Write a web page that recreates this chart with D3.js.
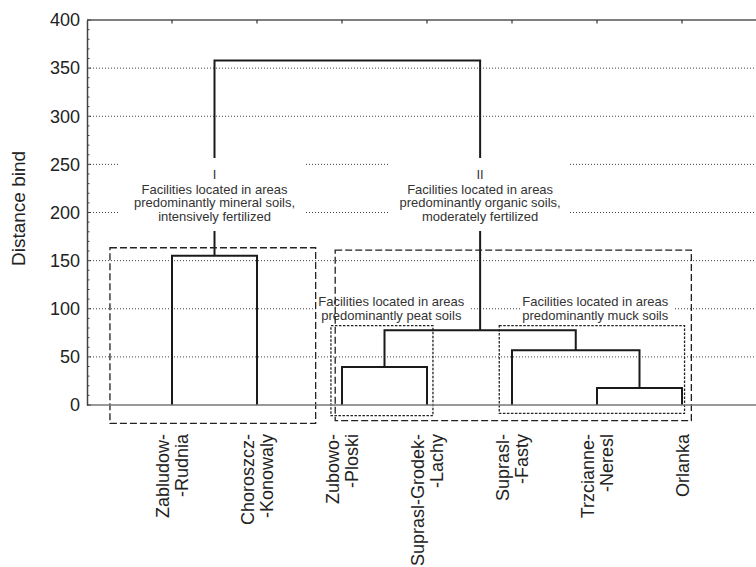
<!DOCTYPE html>
<html>
<head>
<meta charset="utf-8">
<script src="https://cdn.jsdelivr.net/npm/d3@7"></script>
<style>
  body { margin: 0; background: #fff; }
  text { font-family: "Liberation Sans", Arial, sans-serif; }
</style>
</head>
<body>
<div id="chart"></div>
<script>
// leaves of the dendrogram, in drawing order (each entry = lines of the label)
let leafLabels = [
    ["Zabludow-", "-Rudnia"],
    ["Choroszcz-", "-Konowaly"],
    ["Zubowo-", "-Ploski"],
    ["Suprasl-Grodek-", "-Lachy"],
    ["Suprasl-", "-Fasty"],
    ["Trzcianne-", "-Neresl"],
    ["Orlanka"]
];

// merges: node ids 0..6 are leaves, merge k creates node 7+k
let mergeA = [5, 2, 4, 8, 0, 11];
let mergeB = [6, 3, 7, 9, 1, 10];
let mergeHeight = [17.7, 39.5, 57, 77.6, 155, 358];

let yTicks = [0, 50, 100, 150, 200, 250, 300, 350, 400];
let gridValues = [50, 100, 150, 200, 250, 300, 350];

let width = 756, height = 567;

let svg = d3.select("#chart")
    .append("svg")
    .attr("width", width)
    .attr("height", height);

// leaf index -> px, distance -> px
let x = d3.scaleLinear().domain([-1, 7]).range([87, 767]);
let y = d3.scaleLinear().domain([0, 400]).range([405, 20]);

// dotted grid
svg.append("g").selectAll("line").data(gridValues).enter()
    .append("line")
    .attr("x1", x(-1)).attr("x2", width)
    .attr("y1", d => y(d)).attr("y2", d => y(d))
    .attr("stroke", "#444")
    .attr("stroke-width", 1)
    .attr("stroke-dasharray", "1,2");

// build node positions
let nodes = leafLabels.map((d, i) => ({ pos: i, h: 0 }));
mergeA.forEach((a, k) => {
    let b = mergeB[k];
    nodes.push({ pos: (nodes[a].pos + nodes[b].pos) / 2, h: mergeHeight[k] });
});

// dendrogram links
svg.append("g").selectAll("path").data(mergeA).enter()
    .append("path")
    .attr("d", function(a, k) {
        let na = nodes[a], nb = nodes[mergeB[k]], h = mergeHeight[k];
        return `M${x(na.pos)},${y(na.h)}V${y(h)}H${x(nb.pos)}V${y(nb.h)}`;
    })
    .attr("fill", "none")
    .attr("stroke", "#1a1a1a")
    .attr("stroke-width", 2);

// cluster annotations (white boxes blank out lines behind them)
let annotations = [
    { cx: nodes[11].pos, top: 178.5, lines: ["I", "Facilities located in areas", "predominantly mineral soils,", "intensively fertilized"], box: [120, 158, 305, 231] },
    { cx: nodes[10].pos, top: 178.5, lines: ["II", "Facilities located in areas", "predominantly organic soils,", "moderately fertilized"], box: [388, 158, 568, 231] },
    { cx: 2.58, top: 306, lines: ["Facilities located in areas", "predominantly peat soils"], box: [317, 296, 469, 323] },
    { cx: 4.98, top: 306, lines: ["Facilities located in areas", "predominantly muck soils"], box: [521, 296, 673, 323] }
];

let ann = svg.append("g").selectAll("g").data(annotations).enter().append("g");
ann.append("rect")
    .attr("x", d => d.box[0]).attr("y", d => d.box[1])
    .attr("width", d => d.box[2] - d.box[0])
    .attr("height", d => d.box[3] - d.box[1])
    .attr("fill", "#fff");
ann.append("text")
    .attr("text-anchor", "middle")
    .attr("font-size", 13)
    .attr("fill", "#333")
    .selectAll("tspan").data(d => d.lines.map((l, i) => ({ l: l, i: i, d: d }))).enter()
    .append("tspan")
    .attr("x", t => x(t.d.cx))
    .attr("y", function(t) {
        if (t.d.lines.length == 4) {
            return t.i == 0 ? t.d.top : t.d.top + 15 + (t.i - 1) * 13.7;
        }
        return t.d.top + t.i * 13.7;
    })
    .text(t => t.l);

// group boxes [pos0, pos1, hTop, hBottom, dash]
let boxes = [
    [-0.73, 1.69, 163.4, -19.0, "7,3"],
    [1.92, 6.11, 161, -16.3, "7,3"],
    [1.87, 3.07, 82.4, -11.1, "2.5,1.5"],
    [3.85, 6.03, 82.4, -8.6, "2.5,1.5"]
];
svg.append("g").selectAll("rect").data(boxes).enter()
    .append("rect")
    .attr("x", d => x(d[0]))
    .attr("y", d => y(d[2]))
    .attr("width", d => x(d[1]) - x(d[0]))
    .attr("height", d => y(d[3]) - y(d[2]))
    .attr("fill", "none")
    .attr("stroke", "#222")
    .attr("stroke-width", 1.3)
    .attr("stroke-dasharray", d => d[4]);

// frame: top and bottom lines
svg.append("line")
    .attr("x1", x(-1)).attr("x2", width)
    .attr("y1", y(400)).attr("y2", y(400))
    .attr("stroke", "#555").attr("stroke-width", 1.5);
svg.append("line")
    .attr("x1", x(-1)).attr("x2", width)
    .attr("y1", y(0)).attr("y2", y(0))
    .attr("stroke", "#777").attr("stroke-width", 1.5);

// top ticks at leaves
svg.append("g").selectAll("line").data(leafLabels).enter()
    .append("line")
    .attr("x1", (d, i) => x(i)).attr("x2", (d, i) => x(i))
    .attr("y1", y(400)).attr("y2", y(400) + 3.5)
    .attr("stroke", "#333").attr("stroke-width", 1.2);

// y axis
let yAxis = svg.append("g")
    .attr("transform", `translate(${x(-1)},0)`)
    .call(d3.axisLeft(y).tickValues(yTicks).tickSize(0).tickPadding(7));
yAxis.select(".domain").attr("stroke", "#444").attr("stroke-width", 1.5);
yAxis.selectAll("text")
    .attr("font-size", 18)
    .attr("fill", "#222")
    .attr("font-family", "Liberation Sans, Arial, sans-serif");

// minor inward ticks
svg.append("g").selectAll("line").data(d3.range(0, 401, 10)).enter()
    .append("line")
    .attr("x1", x(-1)).attr("x2", d => x(-1) + (d % 50 == 0 ? 4 : 2.5))
    .attr("y1", d => y(d)).attr("y2", d => y(d))
    .attr("stroke", "#444").attr("stroke-width", 1);

// axis title
svg.append("text")
    .attr("transform", `translate(25, ${(y(400) + y(0)) / 2 - 4}) rotate(-90)`)
    .attr("text-anchor", "middle")
    .attr("font-size", 19)
    .attr("fill", "#222")
    .text("Distance bind");

// leaf labels
let labels = svg.append("g").selectAll("text").data(leafLabels).enter()
    .append("text")
    .attr("transform", (d, i) => `translate(${x(i)}, 434) rotate(-90)`)
    .attr("text-anchor", "end")
    .attr("font-size", 18)
    .attr("fill", "#222");
labels.selectAll("tspan").data(d => d.map((l, i) => ({ l: l, i: i, n: d.length }))).enter()
    .append("tspan")
    .attr("x", 0)
    .attr("y", t => 6.5 + (t.i - (t.n - 1) / 2) * 19)
    .text(t => t.l);
</script>
</body>
</html>
